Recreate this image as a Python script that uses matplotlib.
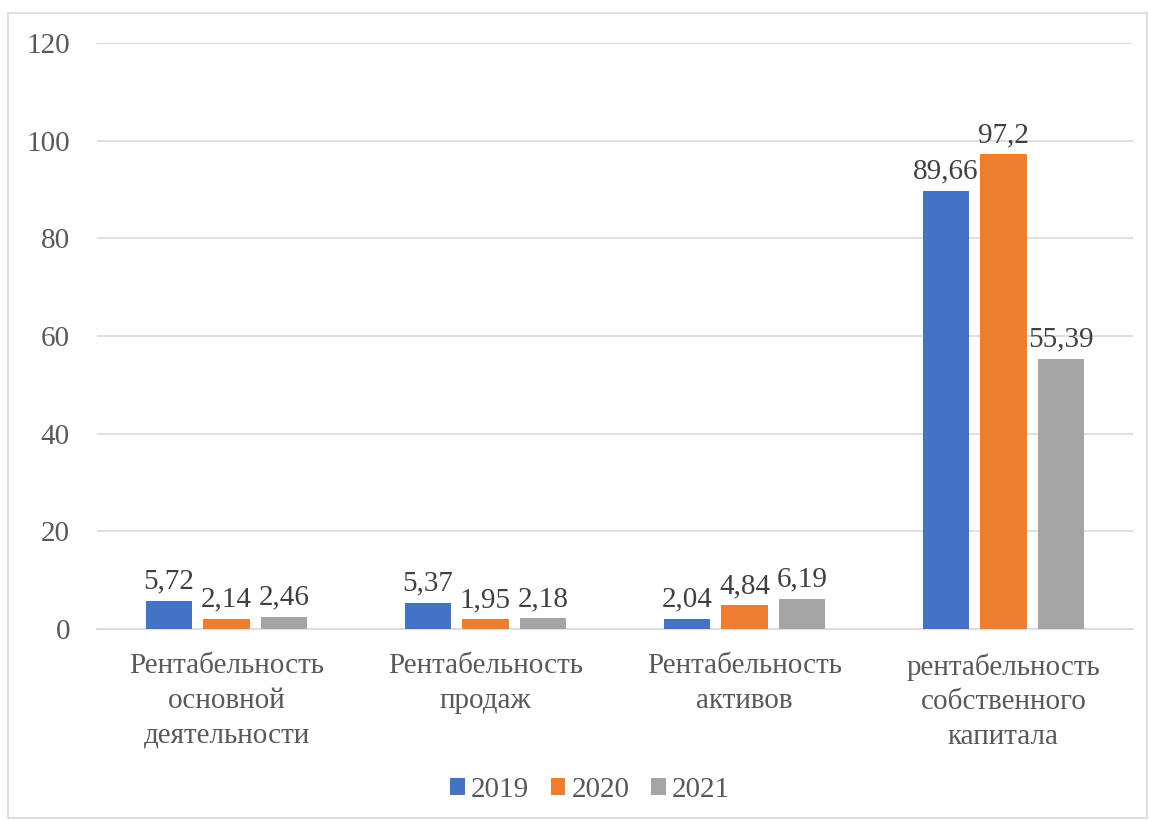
import matplotlib.pyplot as plt
import numpy as np
from matplotlib.patches import Rectangle

plt.rcParams['font.family'] = ['Liberation Serif', 'DejaVu Serif']

categories = ["Рентабельность\nосновной\nдеятельности",
              "Рентабельность\nпродаж",
              "Рентабельность\nактивов",
              "рентабельность\nсобственного\nкапитала"]
years = ["2019", "2020", "2021"]
values_2019 = [5.72, 5.37, 2.04, 89.66]
values_2020 = [2.14, 1.95, 4.84, 97.2]
values_2021 = [2.46, 2.18, 6.19, 55.39]
labels_2019 = ["5,72", "5,37", "2,04", "89,66"]
labels_2020 = ["2,14", "1,95", "4,84", "97,2"]
labels_2021 = ["2,46", "2,18", "6,19", "55,39"]
colors = ["#4472C4", "#ED7D31", "#A5A5A5"]

fs = 21

fig = plt.figure(figsize=(11.49, 8.21), dpi=100)
fig.patches.append(Rectangle((8/1149, 1-818/821), (1147-8)/1149, (818-13)/821,
                             transform=fig.transFigure, fill=False,
                             edgecolor="#D9D9D9", linewidth=1.2))
ax = fig.add_axes([97/1149, 1-629/821, (1133-97)/1149, (629-43)/821])

x = np.arange(len(categories))
width = 0.178
step = 0.222
series = [values_2019, values_2020, values_2021]
texts = [labels_2019, labels_2020, labels_2021]
for i, (vals, labs, c, yr) in enumerate(zip(series, texts, colors, years)):
    bars = ax.bar(x + (i - 1) * step, vals, width, color=c, label=yr, zorder=3)
    for b, t in zip(bars, labs):
        ax.text(b.get_x() + b.get_width() / 2, b.get_height() + 1.3, t,
                ha="center", va="bottom", fontsize=fs, color="#404040")

ax.set_xlim(-0.5, 3.5)
ax.set_ylim(0, 120)
ax.set_yticks(range(0, 121, 20))
ax.yaxis.grid(True, color="#D9D9D9", linewidth=1.2, zorder=0)
ax.set_axisbelow(True)
for s in ["top", "right", "left"]:
    ax.spines[s].set_visible(False)
ax.spines["bottom"].set_color("#D9D9D9")
ax.spines["bottom"].set_linewidth(1.2)
ax.tick_params(axis="both", length=0, labelsize=fs, colors="#595959")
ax.tick_params(axis="y", pad=19.5)
ax.tick_params(axis="x", pad=17.5)
ax.set_xticks(x)
ax.set_xticklabels(categories, linespacing=1.42)

fig.legend(loc="center", bbox_to_anchor=(590/1149, 1-790/821), ncol=3,
           frameon=False, fontsize=fs, handlelength=0.5, handleheight=0.5,
           handletextpad=0.2, columnspacing=0.75, labelcolor="#595959")

fig.savefig("out.png", dpi=100)
